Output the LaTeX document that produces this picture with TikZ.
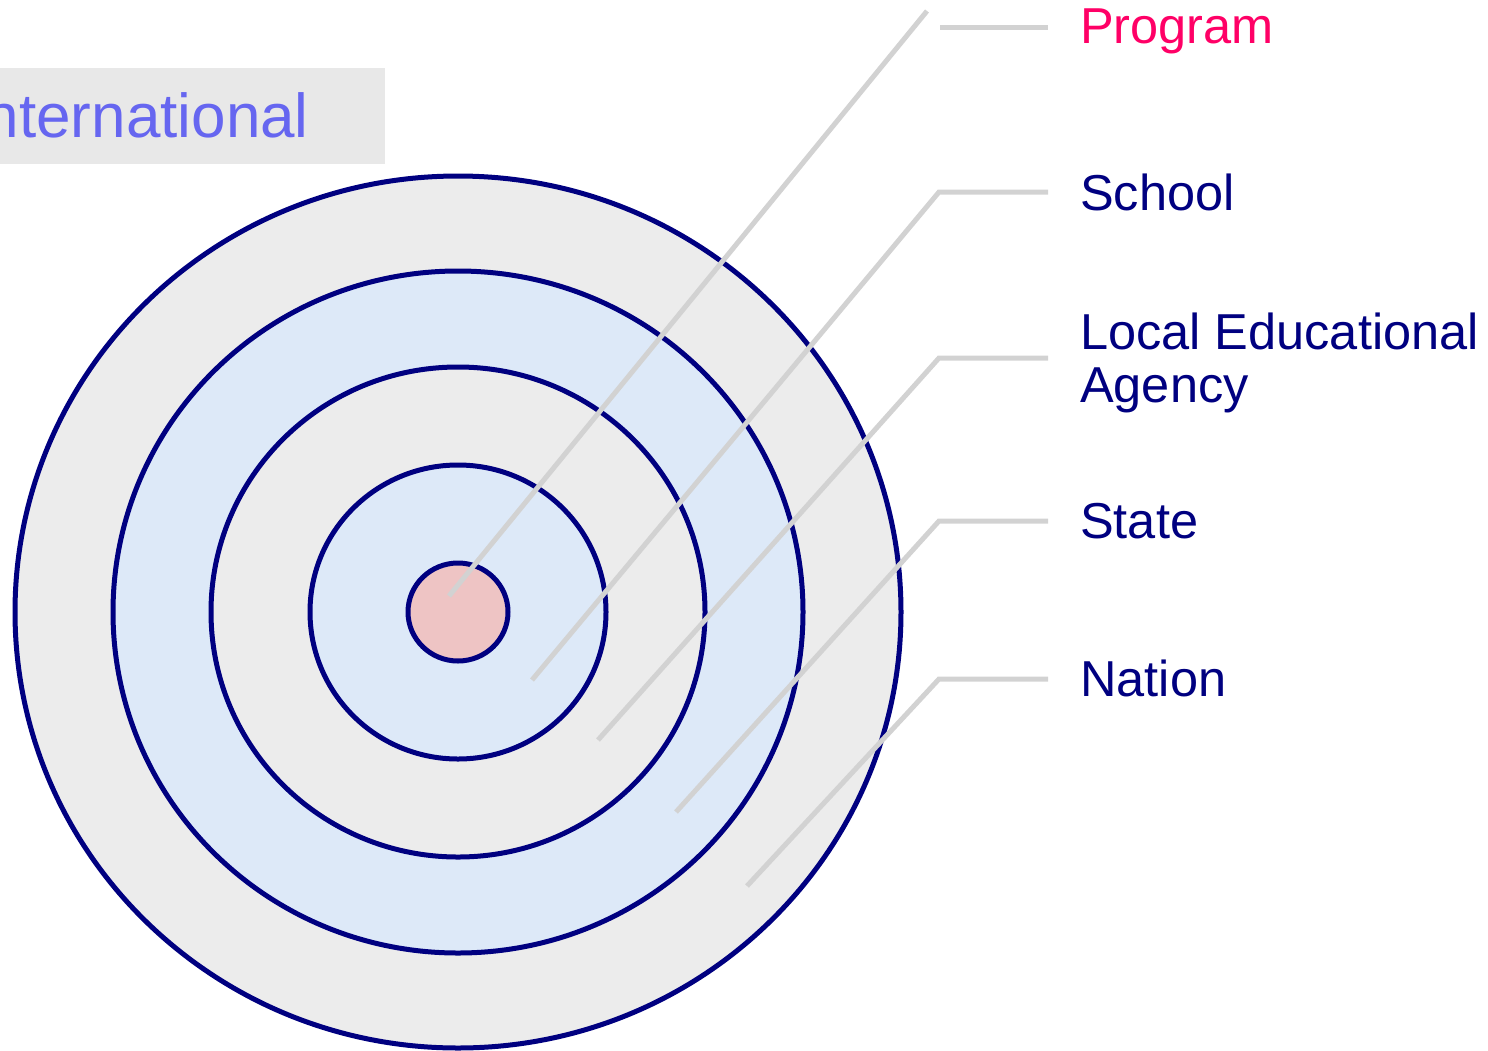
\documentclass[tikz,border=0pt]{standalone}
\usepackage{fontspec}
\setmainfont{Liberation Sans}
\begin{document}
\begin{tikzpicture}[x=1pt,y=-1pt,
  ringline/.style={draw=navy, line width=5pt},
  leader/.style={draw=leadergray, line width=5pt},
  lbl/.style={anchor=base west, inner sep=0pt, text=navy,
    font=\fontsize{50.5}{53}\selectfont},
]
\definecolor{navy}{RGB}{0,0,128}
\definecolor{leadergray}{RGB}{210,210,210}
\definecolor{ringgray}{RGB}{236,236,236}
\definecolor{ringblue}{RGB}{221,233,248}
\definecolor{corepink}{RGB}{238,196,196}
\definecolor{progpink}{RGB}{255,0,102}
\definecolor{intlblue}{RGB}{102,102,240}
\definecolor{boxgray}{RGB}{232,232,232}

\useasboundingbox (0,0) rectangle (1488,1050);
\clip (0,0) rectangle (1488,1050);

% banner for the outermost level, running off the left edge
\fill[boxgray] (-10,68) rectangle (385,164);
\node[anchor=base east, inner sep=0pt, text=intlblue,
  font=\fontsize{62}{64}\selectfont] (intl) at (309,137) {International};

% concentric target
\coordinate (c) at (458,612);
\path[ringline, fill=ringgray]  (c) ellipse [x radius=443pt, y radius=436pt];
\path[ringline, fill=ringblue]  (c) ellipse [x radius=345pt, y radius=341pt];
\path[ringline, fill=ringgray]  (c) ellipse [x radius=247pt, y radius=245pt];
\path[ringline, fill=ringblue]  (c) ellipse [x radius=148pt, y radius=147pt];
\path[ringline, fill=corepink]  (c) ellipse [x radius=50pt, y radius=49pt];

% labels
\node[lbl, text=progpink] (prog) at (1080,43) {Program};
\node[lbl] (school) at (1080,210) {School};
\node[lbl, align=left] (lea) at (1080,402) {Local Educational\\Agency};
\node[lbl] (state) at (1080,538) {State};
\node[lbl] (nation) at (1080,696) {Nation};

% leader anchor points
\coordinate (progH1) at (940,27);   \coordinate (progH2) at (1048,27);
\coordinate (progD1) at (927,11);   \coordinate (progD2) at (449,596);
\coordinate (schH) at (1048,192);   \coordinate (schK) at (939,192);
\coordinate (schE) at (532,680);
\coordinate (leaH) at (1048,358);   \coordinate (leaK) at (939,358);
\coordinate (leaE) at (598,740);
\coordinate (staH) at (1048,521);   \coordinate (staK) at (939,521);
\coordinate (staE) at (676,812);
\coordinate (natH) at (1048,679);   \coordinate (natK) at (939,679);
\coordinate (natE) at (747,886);

% leader lines
\path[leader] (progH1) -- (progH2);
\path[leader] (progD1) -- (progD2);
\path[leader] (schH) -- (schK) -- (schE);
\path[leader] (leaH) -- (leaK) -- (leaE);
\path[leader] (staH) -- (staK) -- (staE);
\path[leader] (natH) -- (natK) -- (natE);
\end{tikzpicture}
\end{document}
